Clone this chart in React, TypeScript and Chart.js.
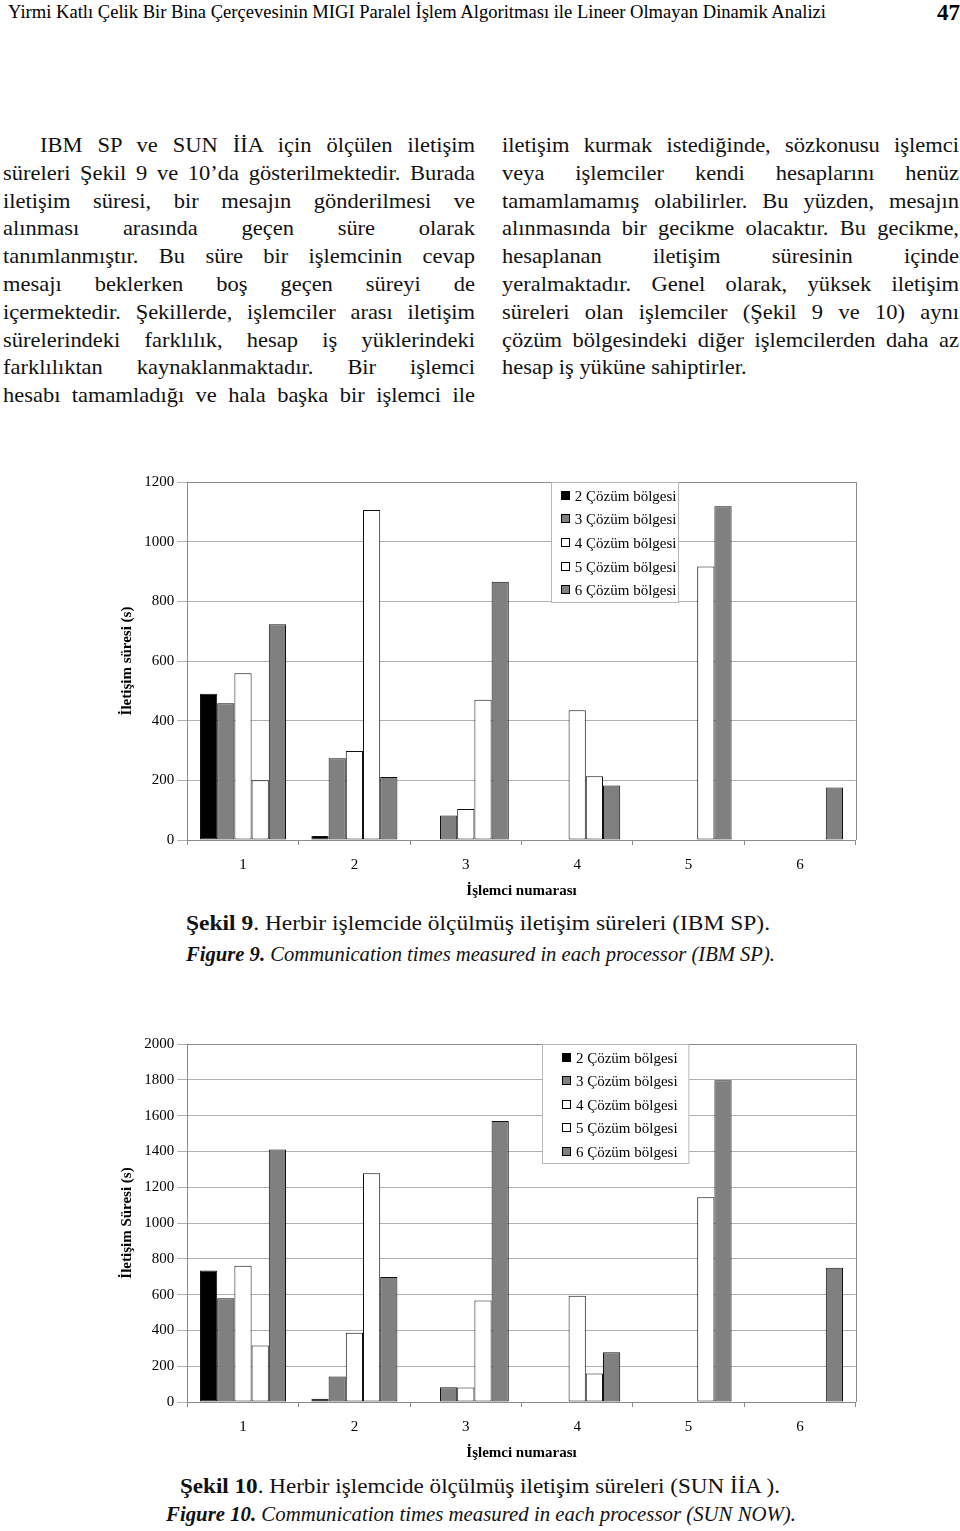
import React, { useEffect, useLayoutEffect, useRef } from "react";
import { Chart, registerables } from "chart.js";

Chart.register(...registerables);

const FONT = "'Liberation Serif', 'Times New Roman', serif";
Chart.defaults.font.family = FONT;
Chart.defaults.color = "#000";

// ---- data ----
const processors = ["1", "2", "3", "4", "5", "6"];
const seriesLabels = [
  "2 Çözüm bölgesi",
  "3 Çözüm bölgesi",
  "4 Çözüm bölgesi",
  "5 Çözüm bölgesi",
  "6 Çözüm bölgesi",
];
const seriesColors = ["#000000", "#808080", "#ffffff", "#ffffff", "#808080"];

// Figure 9 – IBM SP
const ibmRegion2 = [490, 13, null, null, null, null];
const ibmRegion3 = [458, 274, 82, null, null, null];
const ibmRegion4 = [559, 298, 104, 435, null, null];
const ibmRegion5 = [200, 1106, 470, 214, 917, null];
const ibmRegion6 = [723, 211, 866, 183, 1119, 176];
const ibmTicks = [0, 200, 400, 600, 800, 1000, 1200];

// Figure 10 – SUN İİA
const sunRegion2 = [735, 18, null, null, null, null];
const sunRegion3 = [580, 143, 83, null, null, null];
const sunRegion4 = [761, 387, 81, 594, null, null];
const sunRegion5 = [315, 1278, 567, 159, 1144, null];
const sunRegion6 = [1410, 698, 1570, 278, 1798, 750];
const sunTicks = [0, 200, 400, 600, 800, 1000, 1200, 1400, 1600, 1800, 2000];

// ---- text ----
const headerText =
  "Yirmi Katlı Çelik Bir Bina Çerçevesinin MIGI Paralel İşlem Algoritması ile Lineer Olmayan Dinamik Analizi";
const leftLines = [
  "IBM SP ve SUN İİA için ölçülen iletişim",
  "süreleri Şekil 9 ve 10’da gösterilmektedir. Burada",
  "iletişim süresi, bir mesajın gönderilmesi ve",
  "alınması arasında geçen süre olarak",
  "tanımlanmıştır. Bu süre bir işlemcinin cevap",
  "mesajı beklerken boş geçen süreyi de",
  "içermektedir. Şekillerde, işlemciler arası iletişim",
  "sürelerindeki farklılık, hesap iş yüklerindeki",
  "farklılıktan kaynaklanmaktadır. Bir işlemci",
  "hesabı tamamladığı ve hala başka bir işlemci ile",
];
const rightLines = [
  "iletişim kurmak istediğinde, sözkonusu işlemci",
  "veya işlemciler kendi hesaplarını henüz",
  "tamamlamamış olabilirler. Bu yüzden, mesajın",
  "alınmasında bir gecikme olacaktır. Bu gecikme,",
  "hesaplanan iletişim süresinin içinde",
  "yeralmaktadır. Genel olarak, yüksek iletişim",
  "süreleri olan işlemciler (Şekil 9 ve 10) aynı",
  "çözüm bölgesindeki diğer işlemcilerden daha az",
  "hesap iş yüküne sahiptirler.",
];

const frameLegendPlugin = {
  id: "frameLegend",
  afterDraw(chart: any, _args: any, opts: any) {
    const { ctx, chartArea: a } = chart;
    ctx.save();
    ctx.lineWidth = 1;
    ctx.strokeStyle = "#8a8a8a";
    const t = Math.round(a.top) + 0.5;
    const r = Math.round(a.right) + 0.5;
    ctx.beginPath();
    ctx.moveTo(a.left, t);
    ctx.lineTo(r, t);
    ctx.lineTo(r, a.bottom);
    ctx.stroke();

    const x = Math.round(a.left + opts.dx) + 0.5;
    const y = t;
    ctx.fillStyle = "#ffffff";
    ctx.fillRect(x, y, opts.w, opts.h);
    ctx.strokeStyle = "#b8b8b8";
    ctx.strokeRect(x, y, opts.w, opts.h);
    ctx.font = `15px ${FONT}`;
    ctx.textBaseline = "middle";
    chart.data.datasets.forEach((ds: any, i: number) => {
      const cy = Math.round(y + opts.first + i * opts.step);
      const mx = Math.round(x + opts.mx) + 0.5;
      ctx.fillStyle = ds.backgroundColor;
      ctx.fillRect(mx, cy - 4.5, 8, 8);
      ctx.strokeStyle = "#000";
      ctx.strokeRect(mx, cy - 4.5, 8, 8);
      ctx.fillStyle = "#000";
      ctx.fillText(ds.label, x + opts.tx, cy + 1);
    });
    ctx.restore();
  },
};

function BarChart({ top, series, ticks, max, yTitle, legend }: any) {
  const ref = useRef<HTMLCanvasElement>(null);
  useEffect(() => {
    const chart = new Chart(ref.current as HTMLCanvasElement, {
      type: "bar",
      data: {
        labels: processors,
        datasets: series.map((d: any, i: number) => ({
          label: seriesLabels[i],
          data: d,
          backgroundColor: seriesColors[i],
          borderColor: "#111",
          borderWidth: 1,
          borderSkipped: false,
          categoryPercentage: 0.772,
          barPercentage: 1,
        })),
      },
      options: {
        animation: false,
        responsive: false,
        devicePixelRatio: 1,
        layout: { padding: { top: 10, right: 24.3, bottom: 0, left: 0 } },
        plugins: {
          legend: { display: false },
          tooltip: { enabled: false },
          frameLegend: legend,
        } as any,
        scales: {
          x: {
            grid: {
              display: true,
              drawOnChartArea: false,
              drawTicks: true,
              tickLength: 5,
              color: "#8a8a8a",
              offset: true,
            },
            border: { color: "#8a8a8a" },
            ticks: { color: "#000", font: { size: 15 }, padding: 11 },
            title: {
              display: true,
              text: "İşlemci numarası",
              color: "#000",
              font: { size: 15, weight: "bold" },
              padding: { top: 0, bottom: 0 },
            },
            afterFit: (s: any) => {
              s.height = 60;
            },
          },
          y: {
            min: 0,
            max,
            afterBuildTicks: (axis: any) => {
              axis.ticks = ticks.map((v: number) => ({ value: v }));
            },
            ticks: {
              color: "#000",
              font: { size: 15 },
              padding: 3,
              callback: (v: any) => String(v),
            },
            grid: { color: "#b0b0b0", tickLength: 10 },
            border: { color: "#8a8a8a" },
            title: {
              display: true,
              text: yTitle,
              color: "#000",
              font: { size: 15, weight: "bold" },
              padding: { top: 18, bottom: 0 },
            },
            afterFit: (s: any) => {
              s.width = 87.3;
            },
          },
        },
      },
      plugins: [frameLegendPlugin],
    } as any);
    return () => chart.destroy();
  }, []);
  return (
    <canvas
      ref={ref}
      width={780}
      height={430}
      style={{ position: "absolute", left: 100, top, width: 780, height: 430 }}
    />
  );
}

// Text fitted horizontally to a given width; either left-anchored (x) or centred (cx)
function FitText({ x, cx, y, w, size, children, style }: any) {
  const ref = useRef<HTMLDivElement>(null);
  useLayoutEffect(() => {
    const el = ref.current;
    if (!el) return;
    el.style.transform = "none";
    const nat = el.getBoundingClientRect().width;
    if (nat > 0) {
      el.style.transform = `scaleX(${w / nat})`;
      if (cx !== undefined) el.style.left = `${cx - w / 2}px`;
    }
  }, []);
  return (
    <div
      ref={ref}
      style={{
        position: "absolute",
        left: x !== undefined ? x : cx - w / 2,
        top: y - size * 0.6,
        fontSize: size,
        lineHeight: `${size * 1.2}px`,
        whiteSpace: "nowrap",
        transformOrigin: "0 50%",
        fontFamily: FONT,
        ...style,
      }}
    >
      {children}
    </div>
  );
}

const K = 1.07;
function BodyLine({ x, w, y, text, justify }: any) {
  return (
    <div
      style={{
        position: "absolute",
        left: x,
        top: y - 14,
        width: w / K,
        height: 28,
        lineHeight: "28px",
        fontSize: 21,
        fontFamily: FONT,
        textAlign: justify ? "justify" : "left",
        textAlignLast: justify ? "justify" : "left",
        transform: `scaleX(${K})`,
        transformOrigin: "0 0",
        color: "#111",
      }}
    >
      {text}
    </div>
  );
}

export default function App() {
  const lineStep = 27.8;
  const firstY = 145;
  const capStyle = { color: "#111" };
  const figStyle = { color: "#111", fontStyle: "italic" };
  return (
    <div
      style={{
        position: "relative",
        width: 960,
        height: 1531,
        overflow: "hidden",
        background: "#fff",
        fontFamily: FONT,
        color: "#000",
      }}
    >
      <style>{`body{margin:0;background:#fff;}`}</style>
      <FitText x={8} y={12} w={818} size={18.5}>
        {headerText}
      </FitText>
      <div
        style={{
          position: "absolute",
          left: 937,
          top: 0,
          fontSize: 23,
          fontWeight: "bold",
          lineHeight: "26px",
        }}
      >
        47
      </div>

      {leftLines.map((t, i) => (
        <BodyLine
          key={"l" + i}
          x={i === 0 ? 40 : 3}
          w={i === 0 ? 435 : 472}
          y={firstY + i * lineStep}
          text={t}
          justify
        />
      ))}
      {rightLines.map((t, i) => (
        <BodyLine
          key={"r" + i}
          x={502}
          w={457}
          y={firstY + i * lineStep}
          text={t}
          justify={i !== rightLines.length - 1}
        />
      ))}

      <BarChart
        top={470}
        series={[ibmRegion2, ibmRegion3, ibmRegion4, ibmRegion5, ibmRegion6]}
        ticks={ibmTicks}
        max={1200}
        yTitle="İletişim süresi (s)"
        legend={{ dx: 363.4, w: 127, h: 120, first: 13, step: 23.7, mx: 9.3, tx: 23.3 }}
      />
      <FitText cx={478} y={924} w={584} size={21} style={capStyle}>
        <b>Şekil 9</b>. Herbir işlemcide ölçülmüş iletişim süreleri (IBM SP).
      </FitText>
      <FitText cx={480} y={955} w={589} size={21} style={figStyle}>
        <b>Figure 9.</b> Communication times measured in each processor (IBM SP).
      </FitText>

      <BarChart
        top={1032}
        series={[sunRegion2, sunRegion3, sunRegion4, sunRegion5, sunRegion6]}
        ticks={sunTicks}
        max={2000}
        yTitle="İletişim Süresi (s)"
        legend={{ dx: 355, w: 146.4, h: 119, first: 13, step: 23.5, mx: 19, tx: 33.4 }}
      />
      <FitText cx={480} y={1487} w={600} size={21} style={capStyle}>
        <b>Şekil 10</b>. Herbir işlemcide ölçülmüş iletişim süreleri (SUN İİA ).
      </FitText>
      <FitText cx={481} y={1515} w={630} size={21} style={figStyle}>
        <b>Figure 10.</b> Communication times measured in each processor (SUN NOW).
      </FitText>
    </div>
  );
}
